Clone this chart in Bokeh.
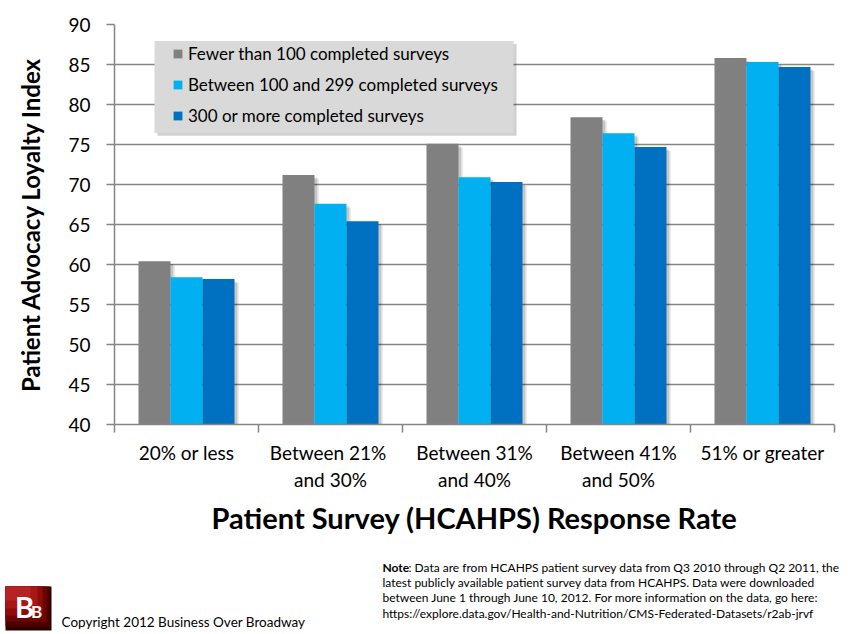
from bokeh.plotting import figure
from bokeh.layouts import column
from bokeh.models import FixedTicker, Range1d, Legend, LegendItem, BoxAnnotation, ColumnDataSource
from bokeh.core.properties import value
from bokeh.embed import file_html
from bokeh.resources import INLINE

FONT = "Lato"

categories = ["20% or less", "Between  21%\nand 30%", "Between 31%\nand 40%",
              "Between 41%\nand 50%", "51% or greater"]
fewer_than_100 = [60.4, 71.2, 75.1, 78.4, 85.8]
between_100_299 = [58.4, 67.6, 70.9, 76.4, 85.3]
over_300 = [58.2, 65.4, 70.3, 74.7, 84.7]
series_names = ["Fewer than 100 completed surveys",
                "Between 100 and 299 completed surveys",
                "300 or more completed surveys"]
series_values = [fewer_than_100, between_100_299, over_300]
colors = ["#808080", "#00b0f0", "#0070c0"]
y_ticks = [40, 45, 50, 55, 60, 65, 70, 75, 80, 85, 90]
note_lines = [
    ": Data are from HCAHPS patient survey data from Q3 2010 through Q2 2011, the",
    "latest publicly available patient survey data from HCAHPS. Data were downloaded",
    "between June 1 through June 10, 2012. For more information on the data, go here:",
    "https://explore.data.gov/Health-and-Nutrition/CMS-Federated-Datasets/r2ab-jrvf",
]
copyright_text = "Copyright 2012 Business Over Broadway"

W = 850
MH = 545
p = figure(width=W, height=MH, output_backend="svg", toolbar_location=None,
           x_range=Range1d(0, 5), y_range=Range1d(40, 90),
           min_border_left=114, min_border_right=16, min_border_top=24, min_border_bottom=121)
p.outline_line_color = None
p.frame_align = False

# grid
p.xgrid.grid_line_color = None
p.ygrid.grid_line_color = "#868686"
p.ygrid.grid_line_width = 1.5
p.ygrid.ticker = FixedTicker(ticks=y_ticks)

# y axis
p.yaxis.ticker = FixedTicker(ticks=y_ticks)
p.yaxis.axis_line_color = "#868686"
p.yaxis.axis_line_width = 1.5
p.yaxis.major_tick_line_color = "#868686"
p.yaxis.major_tick_line_width = 1.5
p.yaxis.major_tick_out = 8
p.yaxis.major_tick_in = 0
p.yaxis.minor_tick_line_color = None
p.yaxis.major_label_text_font = FONT
p.yaxis.major_label_text_font_size = "19px"
p.yaxis.major_label_text_color = "black"
p.yaxis.major_label_standoff = 16
p.yaxis.axis_label = "Patient Advocacy Loyalty Index"
p.yaxis.axis_label_text_font = FONT
p.yaxis.axis_label_text_font_size = "24px"
p.yaxis.axis_label_text_font_style = "bold"
p.yaxis.axis_label_text_color = "black"
p.yaxis.axis_label_standoff = 20

# x axis
centers = [i + 0.5 for i in range(len(categories))]
bounds = [i for i in range(len(categories) + 1)]
p.xaxis.ticker = FixedTicker(ticks=centers, minor_ticks=bounds)
p.xaxis.major_label_overrides = {c: lab for c, lab in zip(centers, categories)}
p.xaxis.axis_line_color = "#868686"
p.xaxis.axis_line_width = 1.5
p.xaxis.major_tick_out = 0
p.xaxis.major_tick_in = 0
p.xaxis.minor_tick_line_color = "#868686"
p.xaxis.minor_tick_line_width = 1.5
p.xaxis.minor_tick_out = 8
p.xaxis.minor_tick_in = 0
p.xaxis.major_label_text_font = FONT
p.xaxis.major_label_text_font_size = "19px"
p.xaxis.major_label_text_color = "black"
p.xaxis.major_label_standoff = 8
p.xaxis.axis_label = "Patient Survey (HCAHPS) Response Rate"
p.xaxis.axis_label_text_font = FONT
p.xaxis.axis_label_text_font_size = "29px"
p.xaxis.axis_label_text_font_style = "bold"
p.xaxis.axis_label_text_color = "black"
p.xaxis.axis_label_standoff = 6

bar_w = 0.2222
offsets = [-bar_w, 0.0, bar_w]

# soft shadows
for vals, off in zip(series_values, offsets):
    for dx, dy, a in [(0.02, 0.35, 0.16), (0.032, 0.5, 0.07)]:
        src = ColumnDataSource(dict(x=[c + off + dx for c in centers], top=[v - dy for v in vals]))
        p.vbar(x="x", top="top", bottom=40, width=bar_w, source=src,
               fill_color="black", fill_alpha=a, line_color=None)

renderers = []
for vals, off, col in zip(series_values, offsets, colors):
    src = ColumnDataSource(dict(x=[c + off for c in centers], top=vals))
    r = p.vbar(x="x", top="top", bottom=40, width=bar_w, source=src,
               fill_color=col, line_color=None)
    renderers.append(r)

# legend box + shadow
p.add_layout(BoxAnnotation(left=0.298, right=2.792, top=87.56, bottom=76.08,
                           fill_color="black", fill_alpha=0.18, line_color=None, level="overlay"))
p.add_layout(BoxAnnotation(left=0.278, right=2.771, top=87.94, bottom=76.45,
                           fill_color="#d9d9d9", fill_alpha=1.0, line_color=None, level="overlay"))

legend = Legend(items=[LegendItem(label=n, renderers=[r]) for n, r in zip(series_names, renderers)],
                location=(58, 298), padding=0, margin=0, spacing=10,
                label_height=18, glyph_height=11, glyph_width=11, label_standoff=5,
                background_fill_alpha=0, border_line_color=None,
                label_text_font=FONT, label_text_font_size="17px", label_text_color="black")
p.add_layout(legend)

# footer (notes, logo, copyright)
FH = 87
f = figure(width=W, height=FH, output_backend="svg", toolbar_location=None,
           x_range=Range1d(0, W), y_range=Range1d(FH, 0),
           min_border=0, min_border_left=0, min_border_right=0, min_border_top=0, min_border_bottom=0)
f.frame_align = False
f.axis.visible = False
f.grid.visible = False
f.outline_line_color = None

# logo (stepped diagonal gradient)
f.quad(left=[5, 5, 5, 5, 5, 5], right=[51, 49, 46, 42, 37, 30],
       top=[41, 41, 41, 41, 41, 41], bottom=[85, 81, 76, 70, 63, 55],
       fill_color=["#2e0000", "#4e0000", "#700404", "#8e0c0c", "#a81616", "#b82222"],
       line_color=None)
f.text(x=[24], y=[61], text=["B"], text_font=value(FONT), text_font_size="29px",
       text_font_style="bold", text_color="white", text_align="center", text_baseline="middle")
f.text(x=[36], y=[66], text=["B"], text_font=value(FONT), text_font_size="17px",
       text_font_style="bold", text_color="white", text_align="center", text_baseline="middle")

f.text(x=[61], y=[76], text=[copyright_text], text_font=value(FONT), text_font_size="13.5px",
       text_color="black", text_baseline="middle")

note_y = [22, 37, 52, 68]
f.text(x=[382], y=[note_y[0]], text=["Note"], text_font=value(FONT), text_font_size="12px",
       text_font_style="bold", text_color="black", text_baseline="middle")
f.text(x=[408, 382, 382, 382], y=note_y, text=note_lines, text_font=value(FONT),
       text_font_size="12px", text_color="black", text_baseline="middle")

layout = column(p, f, spacing=0)
open("out.html", "w").write(file_html(layout, INLINE))
